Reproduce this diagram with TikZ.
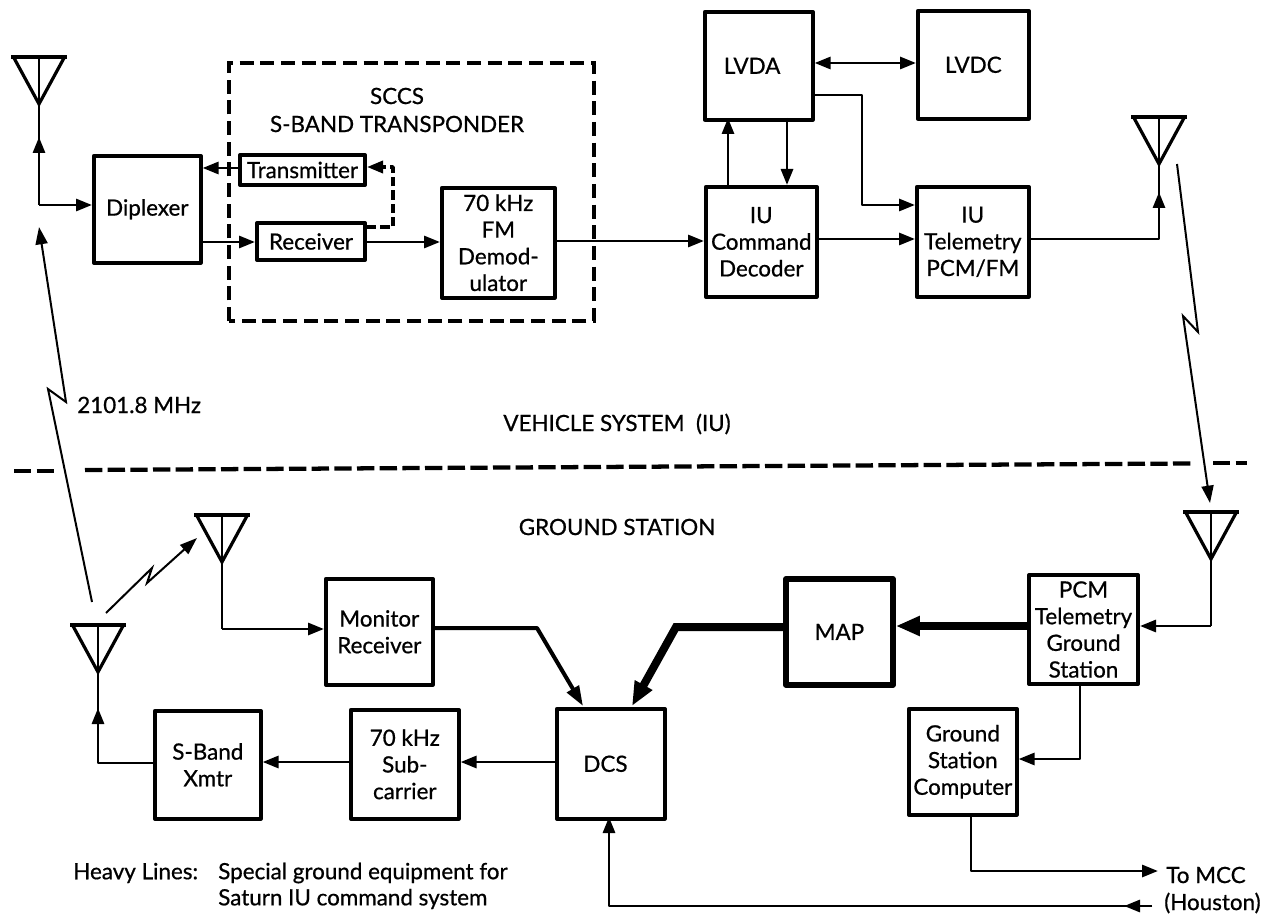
\documentclass[tikz,border=0pt]{standalone}
\usepackage{fontspec}
\setmainfont{Lato}[RawFeature={embolden=0.7}]
\usetikzlibrary{arrows.meta,calc}
\tikzset{
  x=0.75pt,y=-0.75pt,
  box/.style={draw,line width=2.7pt,anchor=north west,inner sep=0pt,align=center,font=\fontsize{16.8}{20}\selectfont,line join=round},
  thickbox/.style={box,line width=4.4pt},
  lbl/.style={inner sep=0pt,font=\fontsize{16.8}{20}\selectfont,align=center},
  wire/.style={line width=2.2pt,line join=round,-{Triangle[length=12pt,width=9pt]}},
  wirep/.style={line width=2.2pt,line join=round},
  monw/.style={line width=3pt,line join=round,-{Triangle[length=15pt,width=10pt]}},
  heavy/.style={line width=6pt,line join=miter,-{Triangle[length=18pt,width=14pt]}},
  radio/.style={line width=1.5pt,line join=miter,-{Triangle[length=13pt,width=9pt]}},
  dashb/.style={line width=3pt,dash pattern=on 10.5pt off 5pt},
  dashd/.style={line width=3.2pt,dash pattern=on 13pt off 4pt},
  ant/.style={line width=2.4pt,line join=miter},
}
\newcommand{\antenna}[3]{%
  \coordinate (#1) at (#2,#3);
  \draw[ant] ($(#1)+(-25,-46)$) -- (#1) -- ($(#1)+(25,-46)$);
  \draw[line width=3.2pt] ($(#1)+(-28,-47)$) -- ($(#1)+(28,-47)$);
  \draw[line width=2pt] ($(#1)+(0,-47)$) -- (#1);
}
\begin{document}
\begin{tikzpicture}
\useasboundingbox (0,0) rectangle (1270,916);
\fill[white] (0,0) rectangle (1270,916);
% dashed enclosure and divider
\draw[dashb] (229,321) -- (229,63) -- (594,63) -- (594,321) -- cycle;
\draw[dashd] (14,471) -- (57,471);
\draw[dashd] (85,470) -- (1191,463.5);
\draw[dashd] (1213,463) -- (1247,463);
% antennas
\antenna{A1}{39}{104}
\antenna{A2}{1159}{164}
\antenna{A3}{222}{562}
\antenna{A4}{98}{672}
\antenna{A5}{1211}{559}
% boxes
\node[box,minimum width=107pt*.75,minimum height=107pt*.75] at (92,154) (dip) {Diplexer};
\node[lbl] (sccs) at (397,96) {SCCS};
\node[lbl] (sband) at (397,124) {S-BAND TRANSPONDER};
\node[box,fill=white,minimum width=125pt*.75,minimum height=30pt*.75,line width=3pt] at (238,153) (tx) {Transmitter};
\node[box,minimum width=108pt*.75,minimum height=37pt*.75,line width=3pt] at (255,221) (rx) {Receiver};
\node[box,minimum width=113pt*.75,minimum height=110pt*.75] at (440,186) (fm) {70 kHz\\FM\\Demod-\\ulator};
\node[box,minimum width=108pt*.75,minimum height=108pt*.75] at (703,10) (lvda) {LVDA\hspace{10pt}};
\node[box,minimum width=111pt*.75,minimum height=108pt*.75] at (916,9) (lvdc) {LVDC};
\node[box,minimum width=111pt*.75,minimum height=110pt*.75] at (704,185) (cmd) {IU\\Command\\Decoder};
\node[box,minimum width=112pt*.75,minimum height=110pt*.75] at (915,185) (tel) {IU\\Telemetry\\PCM/FM};
\node[box,minimum width=107pt*.75,minimum height=106pt*.75] at (324,577) (mon) {Monitor\\Receiver};
\node[box,minimum width=108pt*.75,minimum height=109pt*.75] at (349,708) (sub) {70 kHz\\Sub-\\carrier};
\node[box,minimum width=106pt*.75,minimum height=108pt*.75] at (153,709) (xmtr) {S-Band\\Xmtr};
\node[box,minimum width=108pt*.75,minimum height=110pt*.75] at (555,707) (dcs) {DCS\hspace{8pt}};
\node[thickbox,minimum width=107pt*.75,minimum height=106pt*.75] at (783,576) (map) {MAP};
\node[box,minimum width=109pt*.75,minimum height=109pt*.75,line width=3pt] at (1027,573) (pcm) {PCM\\Telemetry\\Ground\\Station};
\node[box,minimum width=108pt*.75,minimum height=106pt*.75] at (907,707) (gsc) {Ground\\Station\\Computer};
% wires
\draw[wirep] (39,150) -- (A1);
\draw[wire] (39,205) -- (39,137);
\draw[wire] (39,205) -- (dip.west|-39,205);
\draw[wire] (tx.west|-0,168) -- (dip.east|-0,168);
\draw[wire] (dip.east|-0,242) -- (rx.west|-0,242);
\draw[line width=2.6pt,dash pattern=on 7pt off 3pt,line join=round,-{Triangle[length=12pt,width=9pt]}] (rx.east|-0,227) -- (393,227) -- (393,167) -- (tx.east|-0,167);
\draw[wire] (rx.east|-0,242) -- (fm.west|-0,242);
\draw[wire] (fm.east|-0,241) -- (cmd.west|-0,241);
\draw[wire,{Triangle[length=12pt,width=9pt]}-{Triangle[length=12pt,width=9pt]}] (lvda.east|-0,63) -- (lvdc.west|-0,63);
\draw[wire] (728,185) -- (728,118);
\draw[wire] (787,118) -- (787,185);
\draw[wire] (lvda.east|-0,95) -- (862,95) -- (862,205) -- (tel.west|-0,205);
\draw[wire] (cmd.east|-0,239) -- (tel.west|-0,239);
\draw[wirep] (tel.east|-0,239) -- (1159,239) -- (A2);
\draw[wire] (1159,230) -- (1159,192);
\draw[wirep] (A3) -- (222,629);
\draw[wire] (222,629) -- (mon.west|-0,629);
\draw[wirep] (xmtr.west|-0,763) -- (98,763) -- (A4);
\draw[wire] (98,740) -- (98,708);
\draw[wire] (dcs.west|-0,762) -- (sub.east|-0,762);
\draw[wire] (sub.west|-0,762) -- (xmtr.east|-0,762);
\draw[monw] (mon.east|-0,628) -- (537,628) -- (583,706);
\draw[heavy] (map.west|-0,627) -- (676,627) -- (632,706);
\draw[heavy] (pcm.west|-0,626) -- (map.east|-0,626);
\draw[wirep] (A5) -- (1211,626);
\draw[wire] (1211,626) -- (pcm.east|-0,626);
\draw[wire] (1080,682) -- (1080,759) -- (gsc.east|-0,759);
\draw[wire] (971,813) -- (971,871) -- (1158,871);
\draw[wire] (1152,906) -- (609,906) -- (609,817);
\draw[wire] (1152,906) -- (1124,906);
% radio links
\draw[radio] (92,602) -- (48,389) -- (66,402) -- (39,227);
\draw[radio] (1177,164) -- (1198,332) -- (1183,316) -- (1210,503);
\draw[radio] (106,613) -- (152,568) -- (147,583) -- (197,538);
% labels
\node[lbl,anchor=west] (f) at (77,405) {2101.8 MHz};
\node[lbl] (veh) at (617,424) {VEHICLE SYSTEM\ \ (IU)};
\node[lbl] (gnd) at (617,527) {GROUND STATION};
\node[lbl,anchor=west] (hl) at (73,873) {Heavy Lines:};
\node[lbl,anchor=west] (s1) at (218,873) {Special ground equipment for};
\node[lbl,anchor=west] (s2) at (218,899) {Saturn IU command system};
\node[lbl,anchor=west] (mcc) at (1166,875) {To MCC};
\node[lbl,anchor=west] (hou) at (1164,903) {(Houston)};
\end{tikzpicture}
\end{document}
